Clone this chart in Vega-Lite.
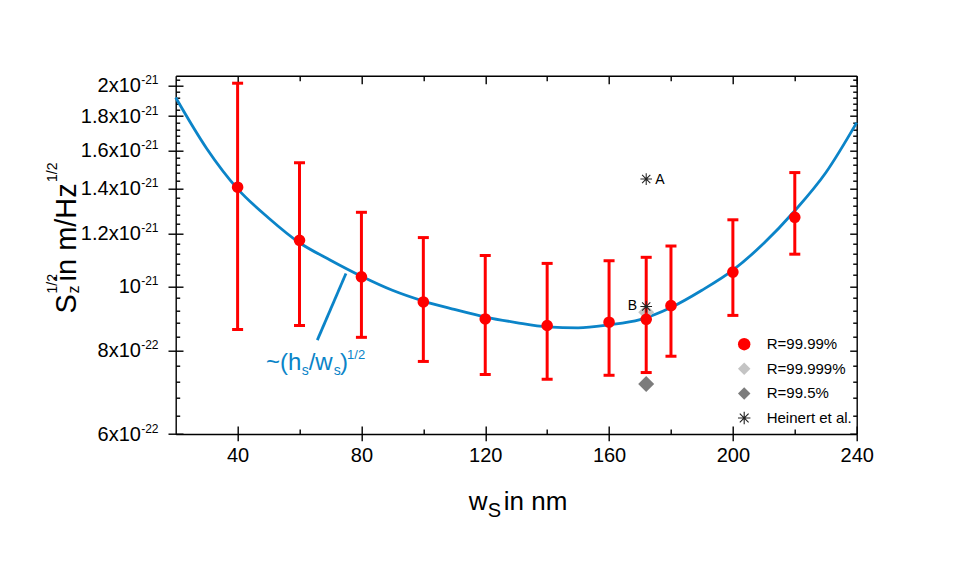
{
  "$schema": "https://vega.github.io/schema/vega-lite/v6.json",
  "width": 681,
  "height": 358.3,
  "autosize": {"type": "none"},
  "padding": {"left": 175.7, "top": 75.7, "right": 106.3, "bottom": 150},
  "background": "white",
  "config": {
    "view": {"stroke": null},
    "axis": {
      "grid": false,
      "domainColor": "#000000",
      "domainWidth": 1.4,
      "tickColor": "#000000",
      "tickWidth": 1.4,
      "labelColor": "#000000",
      "labelFont": "Liberation Sans",
      "labelFontSize": 20,
      "labelOverlap": false,
      "labelFlush": false,
      "titleColor": "#000000",
      "titleFontWeight": "normal"
    }
  },
  "datasets": {
    "fit": [
      {"w": 20, "s": 1.92e-21},
      {"w": 30, "s": 1.61e-21},
      {"w": 40, "s": 1.40e-21},
      {"w": 50, "s": 1.266e-21},
      {"w": 60, "s": 1.162e-21},
      {"w": 70, "s": 1.094e-21},
      {"w": 80, "s": 1.035e-21},
      {"w": 90, "s": 9.86e-22},
      {"w": 100, "s": 9.50e-22},
      {"w": 110, "s": 9.23e-22},
      {"w": 120, "s": 8.99e-22},
      {"w": 130, "s": 8.82e-22},
      {"w": 140, "s": 8.69e-22},
      {"w": 150, "s": 8.66e-22},
      {"w": 160, "s": 8.75e-22},
      {"w": 170, "s": 8.91e-22},
      {"w": 180, "s": 9.29e-22},
      {"w": 190, "s": 9.86e-22},
      {"w": 200, "s": 1.057e-21},
      {"w": 210, "s": 1.16e-21},
      {"w": 220, "s": 1.298e-21},
      {"w": 230, "s": 1.48e-21},
      {"w": 240, "s": 1.76e-21}
    ],
    "measured": [
      {"w": 40, "s": 1.408e-21, "lo": 8.61e-22, "hi": 2.017e-21, "series": "R=99.99%"},
      {"w": 60, "s": 1.172e-21, "lo": 8.73e-22, "hi": 1.532e-21, "series": "R=99.99%"},
      {"w": 80, "s": 1.033e-21, "lo": 8.38e-22, "hi": 1.291e-21, "series": "R=99.99%"},
      {"w": 100, "s": 9.47e-22, "lo": 7.71e-22, "hi": 1.183e-21, "series": "R=99.99%"},
      {"w": 120, "s": 8.93e-22, "lo": 7.37e-22, "hi": 1.112e-21, "series": "R=99.99%"},
      {"w": 140, "s": 8.73e-22, "lo": 7.25e-22, "hi": 1.082e-21, "series": "R=99.99%"},
      {"w": 160, "s": 8.83e-22, "lo": 7.35e-22, "hi": 1.092e-21, "series": "R=99.99%"},
      {"w": 172, "s": 8.92e-22, "lo": 7.42e-22, "hi": 1.105e-21, "series": "R=99.99%"},
      {"w": 180, "s": 9.35e-22, "lo": 7.85e-22, "hi": 1.149e-21, "series": "R=99.99%"},
      {"w": 200, "s": 1.050e-21, "lo": 9.04e-22, "hi": 1.258e-21, "series": "R=99.99%"},
      {"w": 220, "s": 1.269e-21, "lo": 1.117e-21, "hi": 1.481e-21, "series": "R=99.99%"}
    ],
    "reflectivity": [
      {"w": 172, "s": 9.14e-22, "series": "R=99.999%"},
      {"w": 172, "s": 7.13e-22, "series": "R=99.5%"}
    ],
    "heinert": [
      {"w": 172, "s": 1.448e-21, "series": "Heinert et al.", "label": "A"},
      {"w": 172, "s": 9.32e-22, "series": "Heinert et al.", "label": "B"}
    ],
    "pointer": [
      {"w": 75.0, "s": 1.045e-21},
      {"w": 65.75, "s": 8.30e-22}
    ],
    "formula": [
      {"w": 49.2, "s": 7.48e-22}
    ]
  },
  "resolve": {"axis": {"x": "independent", "y": "independent"}},
  "layer": [
    {
      "data": {"name": "fit"},
      "mark": {"type": "line", "color": "#0b84c8", "strokeWidth": 2.8, "interpolate": "monotone"},
      "encoding": {
        "x": {
          "field": "w", "type": "quantitative",
          "scale": {"domain": [20, 240], "nice": false, "zero": false},
          "axis": {"orient": "bottom", "title": null, "values": [40, 80, 120, 160, 200, 240], "tickSize": 6.7, "labelPadding": 4.5, "domain": true}
        },
        "y": {
          "field": "s", "type": "quantitative",
          "scale": {"type": "log", "domain": [6e-22, 2.07e-21], "nice": false},
          "axis": {
            "orient": "left", "title": null,
            "values": [6e-22, 8e-22, 1e-21, 1.2e-21, 1.4e-21, 1.6e-21, 1.8e-21, 2e-21],
            "labelExpr": "abs(datum.value - 1e-21) < 1e-25 ? '10' : datum.value > 1e-21 ? format(datum.value * 1e21, '.1~f') + 'x10' : format(datum.value * 1e22, '.0f') + 'x10'",
            "tickSize": 7.7, "labelPadding": 27.6, "domain": true
          }
        }
      }
    },
    {
      "data": {"name": "pointer"},
      "mark": {"type": "line", "color": "#0b84c8", "strokeWidth": 2.8},
      "encoding": {
        "x": {"field": "w", "type": "quantitative",
          "axis": {"orient": "bottom", "title": null, "values": [40, 80, 120, 160, 200, 240], "offset": -8, "tickSize": 8, "labels": false, "domain": false}},
        "y": {"field": "s", "type": "quantitative",
          "axis": {"orient": "left", "title": null, "values": [6e-22, 8e-22, 1e-21, 1.2e-21, 1.4e-21, 1.6e-21, 1.8e-21, 2e-21], "offset": -7.3, "tickSize": 7.3, "labels": false, "domain": false}}
      }
    },
    {
      "data": {"name": "reflectivity"},
      "mark": {"type": "point", "filled": true, "size": 256, "opacity": 1, "strokeWidth": 0},
      "encoding": {
        "x": {"field": "w", "type": "quantitative",
          "axis": {"orient": "bottom", "title": null, "values": [60, 100, 140, 180, 220], "offset": -5, "tickSize": 5, "labels": false, "domain": false}},
        "y": {"field": "s", "type": "quantitative",
          "axis": {"orient": "left", "title": null,
            "values": [6.4e-22, 6.8e-22, 7.2e-22, 7.6e-22, 8.4e-22, 8.8e-22, 9.2e-22, 9.6e-22, 1.04e-21, 1.08e-21, 1.12e-21, 1.16e-21, 1.24e-21, 1.28e-21, 1.32e-21, 1.36e-21, 1.44e-21, 1.48e-21, 1.52e-21, 1.56e-21, 1.64e-21, 1.68e-21, 1.72e-21, 1.76e-21, 1.84e-21, 1.88e-21, 1.92e-21, 1.96e-21, 2.04e-21],
            "offset": -4, "tickSize": 4, "labels": false, "domain": false}},
        "color": {"field": "series", "type": "nominal"},
        "shape": {"field": "series", "type": "nominal"}
      }
    },
    {
      "data": {"name": "measured"},
      "mark": {"type": "rule", "color": "#ff0000", "strokeWidth": 3},
      "encoding": {
        "x": {"field": "w", "type": "quantitative",
          "axis": {"orient": "top", "title": null, "values": [40, 80, 120, 160, 200, 240], "offset": -8, "tickSize": 8, "labels": false, "domain": false}},
        "y": {"field": "lo", "type": "quantitative",
          "axis": {"orient": "right", "title": null, "values": [6e-22, 8e-22, 1e-21, 1.2e-21, 1.4e-21, 1.6e-21, 1.8e-21, 2e-21], "offset": -7, "tickSize": 7, "labels": false, "domain": false}},
        "y2": {"field": "hi"}
      }
    },
    {
      "data": {"name": "measured"},
      "transform": [{"fold": ["lo", "hi"], "as": ["end", "bound"]}],
      "mark": {"type": "tick", "orient": "horizontal", "color": "#ff0000", "size": 11, "thickness": 3, "opacity": 1},
      "encoding": {
        "x": {"field": "w", "type": "quantitative",
          "axis": {"orient": "top", "title": null, "values": [60, 100, 140, 180, 220], "offset": -5, "tickSize": 5, "labels": false, "domain": false}},
        "y": {"field": "bound", "type": "quantitative",
          "axis": {"orient": "right", "title": null,
            "values": [6.4e-22, 6.8e-22, 7.2e-22, 7.6e-22, 8.4e-22, 8.8e-22, 9.2e-22, 9.6e-22, 1.04e-21, 1.08e-21, 1.12e-21, 1.16e-21, 1.24e-21, 1.28e-21, 1.32e-21, 1.36e-21, 1.44e-21, 1.48e-21, 1.52e-21, 1.56e-21, 1.64e-21, 1.68e-21, 1.72e-21, 1.76e-21, 1.84e-21, 1.88e-21, 1.92e-21, 1.96e-21, 2.04e-21],
            "offset": -4, "tickSize": 4, "labels": false, "domain": false}}
      }
    },
    {
      "data": {"name": "measured"},
      "mark": {"type": "point", "filled": true, "size": 135, "opacity": 1, "strokeWidth": 0},
      "encoding": {
        "x": {"field": "w", "type": "quantitative",
          "axis": {"orient": "bottom", "labels": false, "ticks": false, "domain": false,
            "title": "w", "titleFont": "Liberation Sans", "titleFontSize": 26, "titleAlign": "left", "titleBaseline": "alphabetic", "titleX": 292.6, "titleY": 75.3}},
        "y": {"field": "s", "type": "quantitative",
          "axis": {"orient": "left", "title": null, "ticks": false, "domain": false,
            "values": [6e-22, 8e-22, 1e-21, 1.2e-21, 1.4e-21, 1.6e-21, 1.8e-21, 2e-21],
            "labelExpr": "datum.value >= 9.99e-22 ? '-21' : '-22'",
            "labelFontSize": 12, "labelPadding": 17.7, "labelBaseline": "alphabetic", "labelOffset": -2}},
        "color": {
          "field": "series", "type": "nominal",
          "scale": {"domain": ["R=99.99%", "R=99.999%", "R=99.5%", "Heinert et al."], "range": ["#ff0000", "#c4c4c4", "#7c7c7c", "#222222"]},
          "legend": {"orient": "none", "legendX": 561, "legendY": 261, "title": null, "padding": 0,
            "symbolSize": 155, "symbolStrokeWidth": 0, "labelFont": "Liberation Sans", "labelFontSize": 15, "labelColor": "#000000",
            "rowPadding": 8.6, "labelOffset": 15,
            "labelExpr": "datum.label === 'Heinert et al.' ? '\u00a0Heinert et al.' : datum.label"}
        },
        "shape": {
          "field": "series", "type": "nominal",
          "scale": {"domain": ["R=99.99%", "R=99.999%", "R=99.5%", "Heinert et al."],
            "range": ["circle", "diamond", "diamond", "M-1,-0.09L1,-0.09L1,0.09L-1,0.09Z M-0.09,-1L0.09,-1L0.09,1L-0.09,1Z M-0.643,-0.771L0.771,0.643L0.643,0.771L-0.771,-0.643Z M-0.771,0.643L0.643,-0.771L0.771,-0.643L-0.643,0.771Z"]}
        }
      }
    },
    {
      "data": {"name": "heinert"},
      "mark": {"type": "point", "filled": true, "size": 135, "opacity": 1, "strokeWidth": 0},
      "encoding": {
        "x": {"field": "w", "type": "quantitative",
          "axis": {"orient": "bottom", "labels": false, "ticks": false, "domain": false,
            "title": "S", "titleFont": "Liberation Sans", "titleFontSize": 20, "titleAlign": "left", "titleBaseline": "alphabetic", "titleX": 311.6, "titleY": 82.7}},
        "y": {"field": "s", "type": "quantitative",
          "axis": {"orient": "left", "labels": false, "ticks": false, "domain": false,
            "title": "S", "titleFont": "Liberation Sans", "titleFontSize": 29, "titleAngle": 270, "titleAlign": "left", "titleBaseline": "alphabetic", "titleX": -100.7, "titleY": 237.3}},
        "color": {"field": "series", "type": "nominal"},
        "shape": {"field": "series", "type": "nominal"}
      }
    },
    {
      "data": {"name": "heinert"},
      "transform": [{"filter": "datum.label === 'A'"}],
      "mark": {"type": "text", "align": "left", "baseline": "middle", "dx": 9, "dy": 1, "font": "Liberation Sans", "fontSize": 14, "color": "#000000"},
      "encoding": {
        "x": {"field": "w", "type": "quantitative",
          "axis": {"orient": "bottom", "labels": false, "ticks": false, "domain": false,
            "title": "in nm", "titleFont": "Liberation Sans", "titleFontSize": 26, "titleAlign": "left", "titleBaseline": "alphabetic", "titleX": 327.6, "titleY": 75.3}},
        "y": {"field": "s", "type": "quantitative",
          "axis": {"orient": "left", "labels": false, "ticks": false, "domain": false,
            "title": "z", "titleFont": "Liberation Sans", "titleFontSize": 16, "titleAngle": 270, "titleAlign": "left", "titleBaseline": "alphabetic", "titleX": -97.7, "titleY": 217.3}},
        "text": {"field": "label"}
      }
    },
    {
      "data": {"name": "heinert"},
      "transform": [{"filter": "datum.label === 'B'"}],
      "mark": {"type": "text", "align": "right", "baseline": "middle", "dx": -9, "dy": -1, "font": "Liberation Sans", "fontSize": 14, "color": "#000000"},
      "encoding": {
        "x": {"field": "w", "type": "quantitative", "axis": null},
        "y": {"field": "s", "type": "quantitative",
          "axis": {"orient": "left", "labels": false, "ticks": false, "domain": false,
            "title": "1/2", "titleFont": "Liberation Sans", "titleFontSize": 14, "titleAngle": 270, "titleAlign": "left", "titleBaseline": "alphabetic", "titleX": -119.7, "titleY": 217.3}},
        "text": {"field": "label"}
      }
    },
    {
      "data": {"name": "formula"},
      "mark": {"type": "text", "align": "left", "baseline": "alphabetic", "font": "Liberation Sans", "fontSize": 24, "color": "#0b84c8", "text": "~(h"},
      "encoding": {
        "x": {"field": "w", "type": "quantitative", "axis": null},
        "y": {"field": "s", "type": "quantitative",
          "axis": {"orient": "left", "labels": false, "ticks": false, "domain": false,
            "title": "in m/Hz", "titleFont": "Liberation Sans", "titleFontSize": 29, "titleAngle": 270, "titleAlign": "left", "titleBaseline": "alphabetic", "titleX": -100.7, "titleY": 205.3}}
      }
    },
    {
      "data": {"name": "formula"},
      "mark": {"type": "text", "align": "left", "baseline": "alphabetic", "dx": 35.7, "dy": 5, "font": "Liberation Sans", "fontSize": 14, "color": "#0b84c8", "text": "s"},
      "encoding": {
        "x": {"field": "w", "type": "quantitative", "axis": null},
        "y": {"field": "s", "type": "quantitative",
          "axis": {"orient": "left", "labels": false, "ticks": false, "domain": false,
            "title": "1/2", "titleFont": "Liberation Sans", "titleFontSize": 14, "titleAngle": 270, "titleAlign": "left", "titleBaseline": "alphabetic", "titleX": -119.7, "titleY": 105.8}}
      }
    },
    {
      "data": {"name": "formula"},
      "mark": {"type": "text", "align": "left", "baseline": "alphabetic", "dx": 42.6, "font": "Liberation Sans", "fontSize": 24, "color": "#0b84c8", "text": "/w"},
      "encoding": {
        "x": {"field": "w", "type": "quantitative",
          "axis": {"orient": "top", "title": null, "labels": false, "ticks": false, "domain": true}},
        "y": {"field": "s", "type": "quantitative",
          "axis": {"orient": "right", "title": null, "labels": false, "ticks": false, "domain": true}}
      }
    },
    {
      "data": {"name": "formula"},
      "mark": {"type": "text", "align": "left", "baseline": "alphabetic", "dx": 67.6, "dy": 5, "font": "Liberation Sans", "fontSize": 14, "color": "#0b84c8", "text": "s"},
      "encoding": {
        "x": {"field": "w", "type": "quantitative", "axis": null},
        "y": {"field": "s", "type": "quantitative", "axis": null}
      }
    },
    {
      "data": {"name": "formula"},
      "mark": {"type": "text", "align": "left", "baseline": "alphabetic", "dx": 74, "font": "Liberation Sans", "fontSize": 24, "color": "#0b84c8", "text": ")"},
      "encoding": {
        "x": {"field": "w", "type": "quantitative", "axis": null},
        "y": {"field": "s", "type": "quantitative", "axis": null}
      }
    },
    {
      "data": {"name": "formula"},
      "mark": {"type": "text", "align": "left", "baseline": "alphabetic", "dx": 81, "dy": -11.7, "font": "Liberation Sans", "fontSize": 13, "color": "#0b84c8", "text": "1/2"},
      "encoding": {
        "x": {"field": "w", "type": "quantitative", "axis": null},
        "y": {"field": "s", "type": "quantitative", "axis": null}
      }
    }
  ]
}
